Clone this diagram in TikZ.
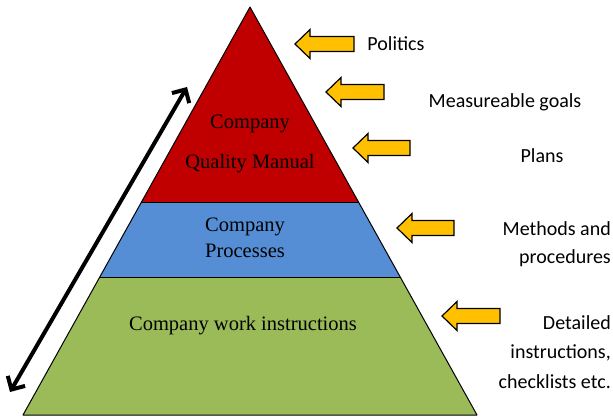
\documentclass[tikz,border=0pt]{standalone}
\usepackage{fontspec}
\setmainfont{Liberation Serif}
\newfontfamily\calib{Carlito}
\usetikzlibrary{arrows.meta,calc}
\definecolor{pred}{HTML}{C00000}
\definecolor{pblue}{HTML}{558ED5}
\definecolor{pgreen}{HTML}{9BBB59}
\definecolor{pyellow}{HTML}{FFC000}
\tikzset{
  layer/.style={draw=black, line width=1pt, line join=round},
  serlabel/.style={inner sep=0pt, align=center, font=\fontsize{20.5}{26}\selectfont},
  sidelabel/.style={inner sep=0pt, font=\calib\fontsize{20}{29}\selectfont},
  barb/.tip={Straight Barb[length=10pt,width=20pt,line width=4pt]},
  pics/yarrow/.style={code={
    \filldraw[fill=pyellow, draw=black, line width=1.2pt, line join=miter]
      (0,0) -- (15,-14.5) -- (15,-7.5) -- (#1,-7.5) -- (#1,7.5) -- (15,7.5) -- (15,14.5) -- cycle;
  }}
}
\begin{document}
\begin{tikzpicture}[x=1pt, y=-1pt]
\useasboundingbox (0,0) rectangle (613,418);
% pyramid corners
\coordinate (apex) at (250,7);
\coordinate (bl) at (23,415);
\coordinate (br) at (477,415);
\coordinate (l1) at ($(apex)!{195/408}!(bl)$);
\coordinate (r1) at ($(apex)!{195/408}!(br)$);
\coordinate (l2) at ($(apex)!{270/408}!(bl)$);
\coordinate (r2) at ($(apex)!{270/408}!(br)$);
\fill[pgreen] (l2) -- (r2) -- (br) -- (bl) -- cycle;
\fill[pblue] (l1) -- (r1) -- (r2) -- (l2) -- cycle;
\fill[pred] (apex) -- (r1) -- (l1) -- cycle;
\draw[layer] (apex) -- (br) -- (bl) -- cycle;
\draw[layer] (l1) -- (r1);
\draw[layer] (l2) -- (r2);
% layer labels
\node[serlabel, font=\fontsize{20.5}{40}\selectfont] (qm) at (250,144) {Company\\Quality Manual};
\node[serlabel] (cp) at (245,238) {Company\\Processes};
\node[serlabel] (cw) at (243,326) {Company work instructions};
% double arrow
\coordinate (dalo) at (10,392);
\coordinate (dahi) at (187,87);
\draw[line width=4pt, {barb}-{barb}] (dalo) -- (dahi);
% yellow arrows
\pic at (295,44) {yarrow=59};
\pic at (326,92) {yarrow=58};
\pic at (353,148) {yarrow=57};
\pic at (397,228) {yarrow=57};
\pic at (442,316) {yarrow=58};
% side labels
\node[sidelabel] (pol) at (396,44) {Politics};
\node[sidelabel] (mg) at (505,102) {Measureable goals};
\node[sidelabel] (pl) at (542,156) {Plans};
\node[sidelabel, align=right, anchor=east, font=\calib\fontsize{20}{28}\selectfont] (mp) at (611,244) {Methods and\\procedures};
\node[sidelabel, align=right, anchor=east, font=\calib\fontsize{20}{29.5}\selectfont] (di) at (611,352) {Detailed\\instructions,\\checklists etc.};
\end{tikzpicture}
\end{document}
